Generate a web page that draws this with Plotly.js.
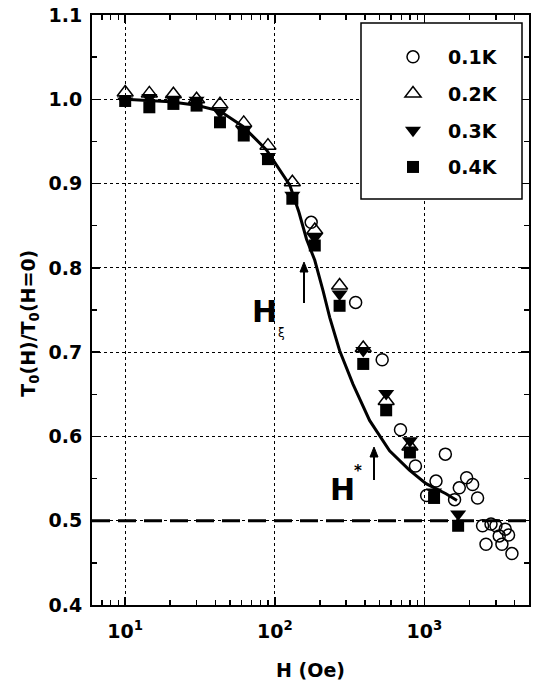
<!DOCTYPE html>
<html>
<head>
<meta charset="utf-8">
<script src="https://cdn.plot.ly/plotly-3.0.1.min.js"></script>
<style>html,body{margin:0;padding:0;background:#fff;}#chart{width:536px;height:694px;}</style>
</head>
<body>
<div id="chart"></div>
<script>
// ---- data ----
const seriesNames = ["0.1K", "0.2K", "0.3K", "0.4K"];

const h01 = [175, 347, 522, 692, 871, 1035, 1195, 1380, 1590, 1710, 1915, 2100, 2266, 2447, 2580, 2786, 3006, 3162, 3296, 3467, 3650, 3846];
const t01 = [0.854, 0.759, 0.691, 0.608, 0.565, 0.530, 0.547, 0.579, 0.525, 0.539, 0.551, 0.543, 0.527, 0.494, 0.472, 0.496, 0.494, 0.482, 0.472, 0.490, 0.483, 0.461];

const h02 = [10, 14.5, 21, 30, 43, 62, 90, 131, 185, 271, 390, 555, 800];
const t02 = [1.008, 1.007, 1.006, 1.000, 0.994, 0.972, 0.945, 0.9015, 0.845, 0.779, 0.705, 0.642, 0.588];

const h03 = [10, 14.5, 21, 30, 43, 62, 90, 131, 185, 271, 390, 555, 800, 1160, 1680];
const t03 = [0.998, 1.002, 1.000, 0.999, 0.985, 0.963, 0.932, 0.886, 0.836, 0.769, 0.702, 0.651, 0.595, 0.534, 0.508];

const h04 = [10, 14.5, 21, 30, 43, 62, 90, 131, 185, 271, 390, 555, 800, 1160, 1680];
const t04 = [0.998, 0.9905, 0.9945, 0.9925, 0.9727, 0.957, 0.929, 0.882, 0.8265, 0.755, 0.686, 0.631, 0.581, 0.527, 0.494];

const hFit = [10, 20, 30, 43, 61, 88, 126, 145, 163, 185, 210, 233, 271, 333, 430, 585, 794, 1026, 1393, 1650];
const tFit = [1.0, 0.997, 0.993, 0.986, 0.968, 0.94, 0.898, 0.866, 0.834, 0.809, 0.773, 0.741, 0.702, 0.662, 0.619, 0.583, 0.560, 0.544, 0.532, 0.524];

const refLevel = 0.5;
const xTickVals = [10, 100, 1000];
const xTickText = ["10<sup>1</sup>", "10<sup>2</sup>", "10<sup>3</sup>"];

// ---- chart ----
const FONT = "DejaVu Sans, Liberation Sans, Arial, sans-serif";
const BOLD = {family: FONT, size: 19, color: "black", weight: "bold"};

const traces = [
  {x: hFit, y: tFit, mode: "lines", line: {color: "black", width: 3}, showlegend: false, hoverinfo: "skip"},
  {x: h04, y: t04, mode: "markers", name: seriesNames[3], legendrank: 4, legendgroup: "d",
   marker: {symbol: "square", size: 12, color: "black"}},
  {x: h03, y: t03, mode: "markers", name: seriesNames[2], legendrank: 3, legendgroup: "c",
   marker: {symbol: "triangle-down", size: 14, color: "black"}},
  {x: h02, y: t02, mode: "markers", name: seriesNames[1], legendrank: 2, legendgroup: "b",
   marker: {symbol: "triangle-up-open", size: 14, color: "black", line: {width: 1.5, color: "black"}}},
  {x: h01, y: t01, mode: "markers", name: seriesNames[0], legendrank: 1, legendgroup: "a",
   marker: {symbol: "circle-open", size: 12, color: "black", line: {width: 1.5, color: "black"}}}
];

const axisCommon = {
  showline: true, linecolor: "black", linewidth: 2, mirror: "ticks",
  ticks: "inside", ticklen: 8, tickwidth: 1.5, tickcolor: "black",
  showgrid: true, gridcolor: "black", gridwidth: 1, griddash: "dot",
  zeroline: false,
  tickfont: BOLD
};

// pixel -> paper helpers for the decorations (arrows, legend frame)
const L = 92, R = 7, T = 15, B = 89, W = 536, H = 694;
const pw = W - L - R, ph = H - T - B;
const px = v => (v - L) / pw;
const py = v => 1 - (v - T) / ph;

function arrowPath(x, yTail, yTip) {
  const hb = yTip + 10, hw = 4;
  return {
    line: {type: "line", xref: "paper", yref: "paper", x0: px(x), x1: px(x), y0: py(yTail), y1: py(hb - 1),
           line: {color: "black", width: 2}},
    head: {type: "path", xref: "paper", yref: "paper", fillcolor: "black", line: {color: "black", width: 1},
           path: `M ${px(x - hw)} ${py(hb)} L ${px(x + hw)} ${py(hb)} L ${px(x)} ${py(yTip)} Z`}
  };
}
const a1 = arrowPath(304, 303, 262);
const a2 = arrowPath(374, 480, 447);

const layout = {
  width: W, height: H,
  margin: {l: L, r: R, t: T, b: B},
  paper_bgcolor: "white", plot_bgcolor: "white",
  font: {family: FONT, color: "black"},
  xaxis: Object.assign({}, axisCommon, {
    type: "log",
    range: [Math.log10(6), Math.log10(5000)],
    tickmode: "array", tickvals: xTickVals, ticktext: xTickText,
    minor: {ticks: "inside", ticklen: 5, tickwidth: 1.5, tickcolor: "black", dtick: "D1", showgrid: false},
    title: {text: "H (Oe)", font: BOLD, standoff: 23},
    ticklabelstandoff: 8
  }),
  yaxis: Object.assign({}, axisCommon, {
    range: [0.4, 1.1],
    dtick: 0.1, tick0: 0.4, tickformat: ".1f",
    minor: {ticks: "inside", ticklen: 5, tickwidth: 1.5, tickcolor: "black", dtick: 0.05, showgrid: false},
    title: {text: "T<sub>0</sub>(H)/T<sub>0</sub>(H=0)&nbsp;&nbsp;&nbsp;&nbsp;", font: BOLD, standoff: 8},
    ticklabelstandoff: 4
  }),
  legend: {
    x: px(378), y: py(38), xanchor: "left", yanchor: "top",
    bgcolor: "rgba(0,0,0,0)", borderwidth: 0,
    font: BOLD,
    tracegroupgap: 9, itemwidth: 60
  },
  shapes: [
    {type: "line", xref: "paper", x0: 0, x1: 1, yref: "y", y0: refLevel, y1: refLevel,
     line: {color: "black", width: 3, dash: "18px,8px"}},
    {type: "rect", xref: "paper", yref: "paper", layer: "above",
     x0: px(361), x1: px(522), y0: py(199), y1: py(23),
     fillcolor: "white", line: {color: "black", width: 1.5}},
    a1.line, a1.head, a2.line, a2.head
  ],
  annotations: [
    {xref: "x", yref: "y", x: 1.933, y: 0.748, text: "H", showarrow: false,
     font: {family: FONT, size: 30, color: "black", weight: "bold"}},
    {xref: "x", yref: "y", x: 2.047, y: 0.723, text: "ξ", showarrow: false,
     font: {family: "DejaVu Sans", size: 12, color: "black"}},
    {xref: "x", yref: "y", x: 2.453, y: 0.537, text: "H", showarrow: false,
     font: {family: FONT, size: 30, color: "black", weight: "bold"}},
    {xref: "x", yref: "y", x: 2.553, y: 0.5595, text: "*", showarrow: false,
     font: {family: FONT, size: 15, color: "black", weight: "bold"}}
  ]
};

Plotly.newPlot("chart", traces, layout, {displayModeBar: false, staticPlot: true});
</script>
</body>
</html>
